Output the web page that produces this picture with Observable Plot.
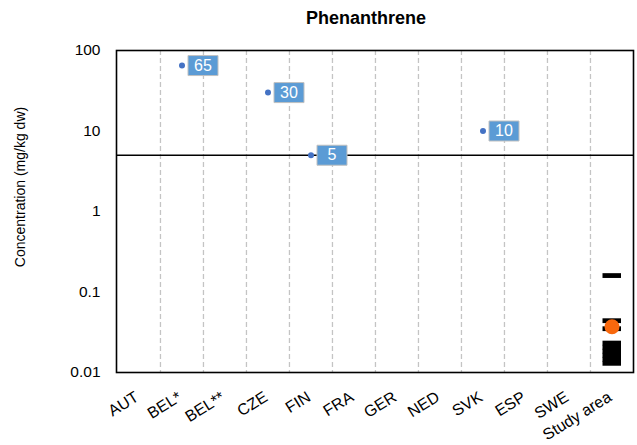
<!DOCTYPE html>
<html>
<head>
<meta charset="utf-8">
<script src="https://cdn.jsdelivr.net/npm/d3@7"></script>
<script src="https://cdn.jsdelivr.net/npm/@observablehq/plot@0.6"></script>
<style>
  html, body { margin: 0; padding: 0; background: #fff; }
  #chart { width: 637px; font-family: "Liberation Sans", Arial, sans-serif; }
  #title { position: relative; width: 637px; height: 36px; }
  #title span {
    position: absolute; left: 366px; top: 0; transform: translateX(-50%);
    font: bold 18px/36px "Liberation Sans", Arial, sans-serif; color: #000; white-space: nowrap;
  }
</style>
</head>
<body>
<div id="chart">
  <div id="title"><span>Phenanthrene</span></div>
</div>
<script>
// Countries / groups along the x axis
const countries = ["AUT", "BEL*", "BEL**", "CZE", "FIN", "FRA", "GER", "NED", "SVK", "ESP", "SWE", "Study area"];

// National limit values for phenanthrene (mg/kg dw)
const limitCountries = ["BEL*", "CZE", "FIN", "SVK"];
const limitValues = [65, 30, 5, 10];

// Horizontal reference level (mg/kg dw)
const referenceLevel = 5;

// Measured concentrations in the study area (mg/kg dw) and their mean
const studySamples = [0.16, 0.044, 0.035, 0.0232, 0.0206, 0.0184, 0.0164, 0.0146, 0.013];
const studyMean = 0.037;

// Log axis ticks
const yTicks = [0.01, 0.1, 1, 10, 100];

const limits = limitCountries.map((c, i) => ({country: c, value: limitValues[i]}));
const samples = studySamples.map(v => ({country: "Study area", value: v}));
const mean = [{country: "Study area", value: studyMean}];

const W = 637, H = 409;
const mL = 116, mR = 4, mT = 14, mB = 73;
const band = (W - mL - mR) / countries.length;

// Value badge drawn to the right of each point
const badge = { draw(ctx) { ctx.rect(6, -10, 30, 20); } };

const chart = Plot.plot({
  width: W,
  height: H,
  marginLeft: mL,
  marginRight: mR,
  marginTop: mT,
  marginBottom: mB,
  style: { fontFamily: "'Liberation Sans', Arial, sans-serif", fontSize: "15px", color: "#000", background: "#fff" },
  x: { type: "band", domain: countries, padding: 0 },
  y: { type: "log", domain: [0.01, 100], ticks: yTicks, tickFormat: d => String(d) },
  marks: [
    // dashed separators between groups
    Plot.ruleX(countries.slice(1), { x: d => d, dx: -band / 2, stroke: "#c4c4c4", strokeWidth: 1.3, strokeDasharray: "5,3" }),
    Plot.ruleY([referenceLevel], { stroke: "#000", strokeWidth: 1.6 }),
    Plot.frame({ stroke: "#000", strokeWidth: 1.6 }),
    Plot.axisY({ ticks: yTicks, tickFormat: d => String(d), tickSize: 0, tickPadding: 16, fontSize: 15.5, label: null }),
    Plot.axisX({ tickRotate: -32, tickSize: 0, tickPadding: 23, dx: -2, fontSize: 16, label: null }),
    Plot.text(["Concentration (mg/kg dw)"], { text: d => d, frameAnchor: "left", textAnchor: "middle", rotate: -90, dx: -96, dy: -24.5, fontSize: 14 }),
    // limit values
    Plot.dot(limits, { x: "country", y: "value", r: 3, fill: "#4472c4" }),
    Plot.dot(limits, { x: "country", y: "value", symbol: badge, fill: "#5b9bd5", stroke: "#c0c0c0", strokeWidth: 1 }),
    Plot.text(limits, { x: "country", y: "value", text: d => String(d.value), dx: 21, fill: "#fff", fontSize: 16 }),
    // study area samples and mean
    Plot.tickY(samples, { x: "country", y: "value", stroke: "#000", strokeWidth: 4.8, insetLeft: 12.5, insetRight: 12 }),
    Plot.dot(mean, { x: "country", y: "value", r: 7.5, fill: "#f8680d" })
  ]
});

document.getElementById("chart").appendChild(chart);
</script>
</body>
</html>
